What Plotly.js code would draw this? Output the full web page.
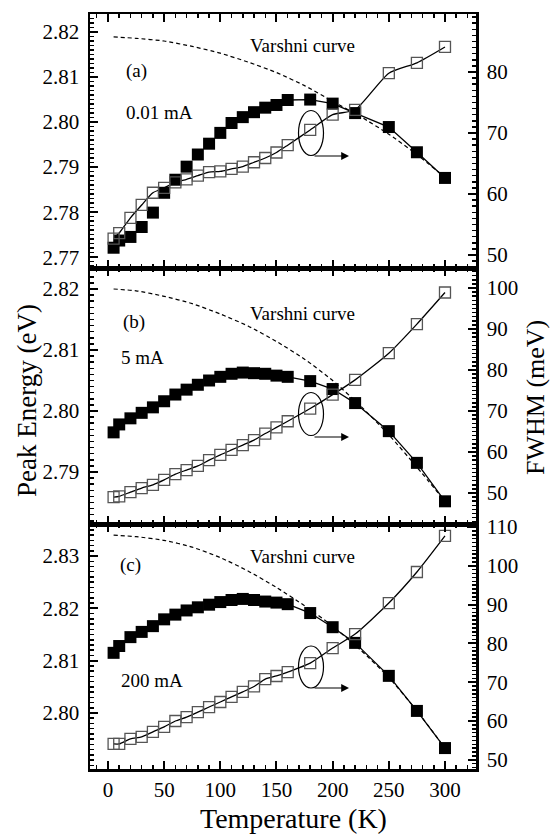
<!DOCTYPE html>
<html>
<head>
<meta charset="utf-8">
<script src="https://cdn.plot.ly/plotly-3.0.1.min.js"></script>
<style>html,body{margin:0;padding:0;background:#fff;}#chart{width:550px;height:834px;}</style>
</head>
<body>
<div id="chart"></div>
<script>
// ---- data ----
var temps = [5,10,20,30,40,50,60,70,80,90,100,110,120,130,140,150,160,180,200,220,250,275,300];
// panel (a) 0.01 mA
var peakA = [2.7721,2.7737,2.7745,2.7767,2.7799,2.7843,2.7872,2.7901,2.7928,2.7952,2.7976,2.7998,2.8011,2.8022,2.8032,2.8038,2.8049,2.8050,2.8041,2.8020,2.7989,2.7933,2.7876];
var fwhmA = [52.7,53.6,56.1,58.2,60.2,61.0,61.9,62.4,63.0,63.6,63.7,64.1,64.5,65.2,65.9,66.8,68.0,70.5,73.0,73.8,79.8,81.5,84.1];
// panel (b) 5 mA
var peakB = [2.7965,2.7978,2.7988,2.7997,2.8006,2.8016,2.8027,2.8035,2.8043,2.8050,2.8056,2.8061,2.8063,2.8062,2.8061,2.8058,2.8056,2.8049,2.8036,2.8013,2.7967,2.7915,2.7852];
var fwhmB = [49.0,49.2,50.2,51.2,52.0,53.2,54.6,55.6,56.6,58.0,59.3,60.5,61.7,62.9,64.5,66.0,67.5,70.6,74.0,77.6,84.1,91.2,98.9];
// panel (c) 200 mA
var peakC = [2.8115,2.8128,2.8145,2.8155,2.8166,2.8179,2.8188,2.8196,2.8202,2.8207,2.8212,2.8216,2.8218,2.8216,2.8213,2.8211,2.8208,2.8191,2.8164,2.8134,2.8071,2.8004,2.7933];
var fwhmC = [54.1,54.1,55.4,55.9,57.2,58.5,60.0,61.0,62.3,63.6,64.9,66.2,67.5,68.9,70.8,71.6,72.6,74.9,78.8,82.4,90.4,98.4,107.7];
// Varshni curves
var varshniT = [5,25,50,75,100,125,150,175,200,225,250,275,300];
var varshniA = [2.8189,2.8186,2.8180,2.8168,2.8153,2.8133,2.8110,2.8081,2.8046,2.8012,2.7973,2.7928,2.7877];
var varshniB = [2.8200,2.8197,2.8188,2.8176,2.8159,2.8139,2.8114,2.8085,2.8050,2.8008,2.7961,2.7908,2.7852];
var varshniC = [2.8340,2.8337,2.8330,2.8317,2.8297,2.8271,2.8240,2.8205,2.8166,2.8120,2.8068,2.8004,2.7933];
var lineStart = 15; // index of 150 K, where the solid line through filled squares begins

var panelLabels = ['(a)','(b)','(c)'];
var currentLabels = ['0.01 mA','5 mA','200 mA'];
var varshniLabel = 'Varshni curve';
var xTitle = 'Temperature (K)';
var yTitle = 'Peak Energy (eV)';
var y2Title = 'FWHM (meV)';

// ---- layout helpers ----
var L = 90, R = 476, TOP = 14, BOT = 769;
function px(x){ return (x - L) / (R - L); }
function py(y){ return (BOT - y) / (BOT - TOP); }
var FONT = 'Liberation Serif';

var panels = [
  {peak: peakA, fwhm: fwhmA, vars: varshniA, xa: 'x',  ye: 'y',  yf: 'y2'},
  {peak: peakB, fwhm: fwhmB, vars: varshniB, xa: 'x2', ye: 'y3', yf: 'y4'},
  {peak: peakC, fwhm: fwhmC, vars: varshniC, xa: 'x3', ye: 'y5', yf: 'y6'}
];

var traces = [];
panels.forEach(function(p){
  traces.push({x: varshniT, y: p.vars, xaxis: p.xa, yaxis: p.ye, mode: 'lines',
    line: {color: '#000', width: 1.2, dash: '4px,3px', shape: 'spline', smoothing: 0.6}, hoverinfo: 'skip'});
  traces.push({x: temps, y: p.fwhm, xaxis: p.xa, yaxis: p.yf, mode: 'lines+markers',
    line: {color: '#000', width: 1.3, shape: 'spline', smoothing: 0.6},
    marker: {symbol: 'square', size: 11, color: 'rgba(255,255,255,0)', line: {color: '#555', width: 1.3}}});
  traces.push({x: temps.slice(lineStart), y: p.peak.slice(lineStart), xaxis: p.xa, yaxis: p.ye, mode: 'lines',
    line: {color: '#000', width: 1.3}});
  traces.push({x: temps, y: p.peak, xaxis: p.xa, yaxis: p.ye, mode: 'markers',
    marker: {symbol: 'square', size: 12, color: '#000', line: {width: 0}}});
});

var tickFont = {family: FONT, size: 21, color: '#000'};
function xAxis(anchor, showLabels){
  return {domain: [0,1], anchor: anchor, range: [-16, 327.6], tick0: 0, dtick: 50,
    ticks: 'inside', ticklen: 8, tickwidth: 2, tickcolor: '#000',
    minor: {dtick: 10, tick0: 0, ticks: 'inside', ticklen: 4, tickwidth: 1.5, tickcolor: '#000'},
    showline: true, linewidth: 2.5, linecolor: '#000', mirror: 'ticks',
    showgrid: false, zeroline: false, showticklabels: showLabels, tickfont: tickFont, ticklabelstandoff: 0};
}
function yLeft(dom, range, vals, anchor){
  return {domain: dom, anchor: anchor, range: range, tickmode: 'array', tickvals: vals,
    ticktext: vals.map(function(v){return v.toFixed(2);}),
    ticks: 'inside', ticklen: 8, tickwidth: 2, tickcolor: '#000',
    minor: {tickmode: 'linear', tick0: 2.7, dtick: 0.001, ticks: 'inside', ticklen: 4, tickwidth: 1.5, tickcolor: '#000'},
    showline: true, linewidth: 2.5, linecolor: '#000', showgrid: false, zeroline: false,
    tickfont: tickFont, ticklabelstandoff: 4};
}
function yRight(over, anchor, range, vals){
  return {overlaying: over, side: 'right', anchor: anchor, range: range, tickmode: 'array', tickvals: vals,
    ticks: 'inside', ticklen: 8, tickwidth: 2, tickcolor: '#000',
    minor: {tickmode: 'linear', tick0: 0, dtick: 1, ticks: 'inside', ticklen: 4, tickwidth: 1.5, tickcolor: '#000'},
    showline: true, linewidth: 2.5, linecolor: '#000', showgrid: false, zeroline: false,
    tickfont: tickFont, ticklabelstandoff: 4};
}

var dA = [py(268), 1], dB = [py(524), py(268)], dC = [0, py(524)];

var annotations = [];
var shapes = [];
var annFont = {family: FONT, size: 19, color: '#000'};
var labelPos = [
  {v: 45, p: 71, c: 113, ellY: 133, ellR: 22.5, arr: 156},
  {v: 313, p: 322, c: 358, ellY: 414, ellR: 21.5, arr: 437},
  {v: 556, p: 565, c: 680, ellY: 667, ellR: 21, arr: 688}
];
var labelX = [124, 121, 118];
var curX = [124, 119, 119];
labelPos.forEach(function(q, i){
  annotations.push({xref: 'paper', yref: 'paper', x: px(302), y: py(q.v), text: varshniLabel, showarrow: false, font: annFont, xanchor: 'center', yanchor: 'middle'});
  annotations.push({xref: 'paper', yref: 'paper', x: px(labelX[i]), y: py(q.p), text: panelLabels[i], showarrow: false, font: annFont, xanchor: 'left', yanchor: 'middle'});
  annotations.push({xref: 'paper', yref: 'paper', x: px(curX[i]), y: py(q.c), text: currentLabels[i], showarrow: false, font: annFont, xanchor: 'left', yanchor: 'middle'});
  annotations.push({xref: 'paper', yref: 'paper', x: px(349), y: py(q.arr), ax: -36, ay: 0, text: '', showarrow: true,
    arrowhead: 2, arrowsize: 1.3, arrowwidth: 1.2, arrowcolor: '#000'});
  shapes.push({type: 'circle', xref: 'paper', yref: 'paper', x0: px(298.5), x1: px(323.5), y0: py(q.ellY + q.ellR), y1: py(q.ellY - q.ellR),
    line: {color: '#000', width: 1.2}});
});
annotations.push({xref: 'paper', yref: 'paper', x: px(27), y: py(401), text: yTitle, textangle: -90, showarrow: false,
  font: {family: FONT, size: 27, color: '#000'}, xanchor: 'center', yanchor: 'middle'});
annotations.push({xref: 'paper', yref: 'paper', x: px(535), y: py(398), text: y2Title, textangle: -90, showarrow: false,
  font: {family: FONT, size: 26, color: '#000'}, xanchor: 'center', yanchor: 'middle'});
annotations.push({xref: 'paper', yref: 'paper', x: px(293), y: py(819), text: xTitle, showarrow: false,
  font: {family: FONT, size: 28, color: '#000'}, xanchor: 'center', yanchor: 'middle'});

var layout = {
  width: 550, height: 834, margin: {l: L, r: 550 - R, t: TOP, b: 834 - BOT, pad: 0},
  paper_bgcolor: '#fff', plot_bgcolor: '#fff', showlegend: false,
  xaxis: xAxis('y', false), xaxis2: xAxis('y3', false), xaxis3: xAxis('y5', true),
  yaxis: yLeft(dA, [2.7676, 2.8240], [2.77,2.78,2.79,2.80,2.81,2.82], 'x'),
  yaxis2: yRight('y', 'x', [47.87, 89.5], [50,60,70,80]),
  yaxis3: yLeft(dB, [2.78148, 2.82344], [2.79,2.80,2.81,2.82], 'x2'),
  yaxis4: yRight('y3', 'x2', [42.44, 104.88], [50,60,70,80,90,100]),
  yaxis5: yLeft(dC, [2.7893, 2.83612], [2.80,2.81,2.82,2.83], 'x3'),
  yaxis6: yRight('y5', 'x3', [47.63, 110.77], [50,60,70,80,90,100,110]),
  annotations: annotations, shapes: shapes
};
layout.yaxis2.domain = dA; layout.yaxis4.domain = dB; layout.yaxis6.domain = dC;

Plotly.newPlot('chart', traces, layout, {displayModeBar: false, staticPlot: true});
</script>
</body>
</html>
